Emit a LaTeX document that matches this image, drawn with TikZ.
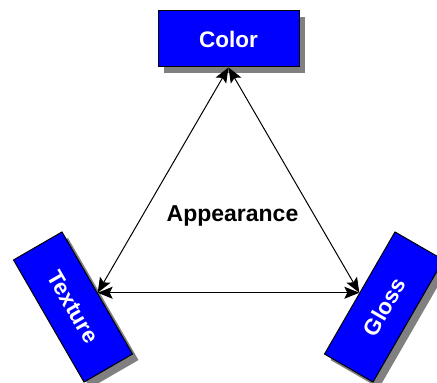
\documentclass[tikz,border=0pt]{standalone}
\usepackage{fontspec}
\setmainfont{Liberation Sans}
\usetikzlibrary{arrows.meta}
\begin{document}
\begin{tikzpicture}[x=1pt,y=1pt,
  boxstyle/.style={draw=black, line width=1pt, fill={rgb,255:red,0;green,0;blue,255},
    minimum width=141pt, minimum height=56pt, inner sep=0pt,
    text=white, font=\fontsize{22.5}{26}\selectfont\bfseries},
  shadowstyle/.style={fill={rgb,255:red,128;green,128;blue,128},
    minimum width=141pt, minimum height=56pt, inner sep=0pt},
  link/.style={line width=1pt, black,
    {Stealth[length=15pt,width=12pt,inset=3pt]}-{Stealth[length=15pt,width=12pt,inset=3pt]}},
  lbl/.style={font=\fontsize{23}{27}\selectfont\bfseries, text=black}
]
\useasboundingbox (0,0) rectangle (437,383);
% shadows
\node[shadowstyle] (colorsh) at (234.5,338) {};
\node[shadowstyle, rotate=-60] (texturesh) at (79,70) {};
\node[shadowstyle, rotate=60] (glosssh) at (390,70) {};
% boxes
\node[boxstyle] (color) at (228.5,344) {Color};
\node[boxstyle, rotate=-60] (texture) at (73,76) {Texture};
\node[boxstyle, rotate=60] (gloss) at (384,76) {Gloss};
% label
\node[lbl, anchor=base] (app) at (232.5,161) {Appearance};
% connectors
\draw[link] (color.south) -- (texture.north);
\draw[link] (color.south) -- (gloss.north);
\draw[link] (texture.north) -- (gloss.north);
\end{tikzpicture}
\end{document}
